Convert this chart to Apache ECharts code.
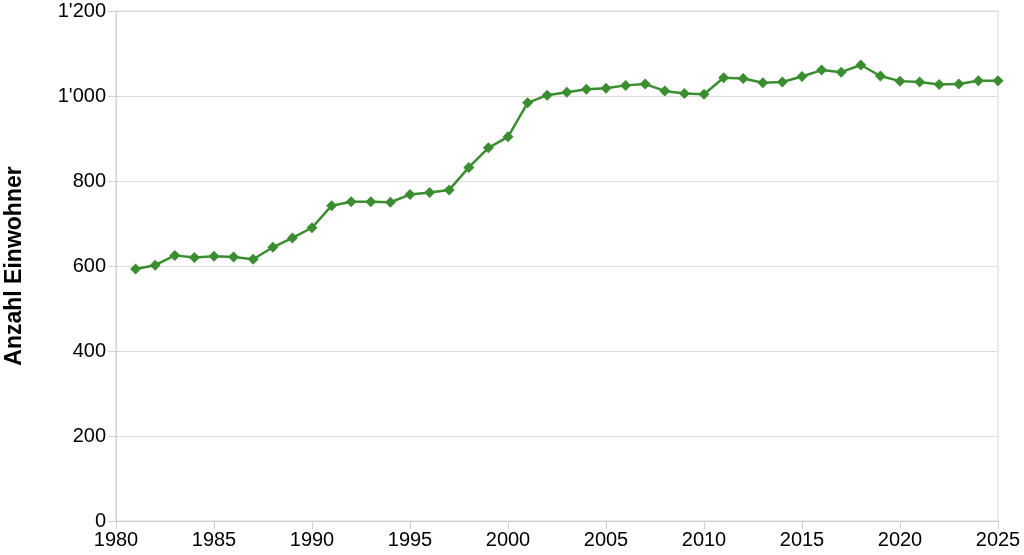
<!DOCTYPE html>
<html>
<head>
	<meta charset="utf-8">
	<title></title>
	<style>
		html, body { margin: 0; padding: 0; background: #fff; }
		#box_1 { width: 1024px; height: 555px; }
	</style>
</head>
<body>
	<div id="box_1"></div>
</body>
<script src="https://cdn.jsdelivr.net/npm/echarts@6/dist/echarts.min.js"></script>
<script>
	// Jahre und Einwohnerzahlen
	var years = [1981,1982,1983,1984,1985,1986,1987,1988,1989,1990,
		1991,1992,1993,1994,1995,1996,1997,1998,1999,2000,
		2001,2002,2003,2004,2005,2006,2007,2008,2009,2010,
		2011,2012,2013,2014,2015,2016,2017,2018,2019,2020,
		2021,2022,2023,2024,2025]
	var einwohner = [593,602,625,620,623,621,616,644,666,690,
		742,751,751,750,768,773,779,832,878,904,
		984,1002,1009,1016,1018,1025,1028,1012,1006,1004,
		1043,1041,1031,1033,1046,1061,1056,1073,1047,1035,
		1033,1027,1028,1036,1036]

	var seriesData = []
	for (var i = 0; i < years.length; i++) {
		seriesData.push([years[i], einwohner[i]])
	}

	var myChart = echarts.init(document.getElementById('box_1'))
	var font = 'Liberation Sans, Arial, sans-serif'
	var option = {
		animation: false,
		grid: {
			left: 116,
			right: 26,
			top: 11,
			bottom: 34,
			outerBoundsMode: 'none',
			containLabel: false,
			show: true,
			borderColor: '#d9d9d9',
			borderWidth: 1
		},
		xAxis: {
			type: 'value',
			min: 1980,
			max: 2025,
			interval: 5,
			axisLine: { show: true, lineStyle: { color: '#d0d0d0' } },
			axisTick: { show: true, length: 8, lineStyle: { color: '#d0d0d0' } },
			splitLine: { show: false },
			axisLabel: {
				color: '#000',
				fontFamily: font,
				fontSize: 20,
				margin: 9,
				formatter: function (v) { return String(v) }
			}
		},
		yAxis: {
			type: 'value',
			min: 0,
			max: 1200,
			interval: 200,
			name: 'Anzahl Einwohner',
			nameLocation: 'middle',
			nameGap: 90,
			nameTextStyle: {
				color: '#000',
				fontFamily: font,
				fontSize: 23,
				fontWeight: 'bold'
			},
			axisLine: { show: true, lineStyle: { color: '#d0d0d0' } },
			axisTick: { show: true, length: 8, lineStyle: { color: '#d0d0d0' } },
			splitLine: { show: true, lineStyle: { color: '#dcdcdc' } },
			axisLabel: {
				color: '#000',
				fontFamily: font,
				fontSize: 20,
				margin: 10,
				formatter: function (v) {
					return String(v).replace(/\B(?=(\d{3})+(?!\d))/g, "'")
				}
			}
		},
		series: [{
			type: 'line',
			data: seriesData,
			symbol: 'diamond',
			symbolSize: [11, 11],
			showSymbol: true,
			lineStyle: { color: '#3b8e30', width: 2.5 },
			itemStyle: { color: '#3b8e30' }
		}]
	}
	myChart.setOption(option)
</script>
</html>
